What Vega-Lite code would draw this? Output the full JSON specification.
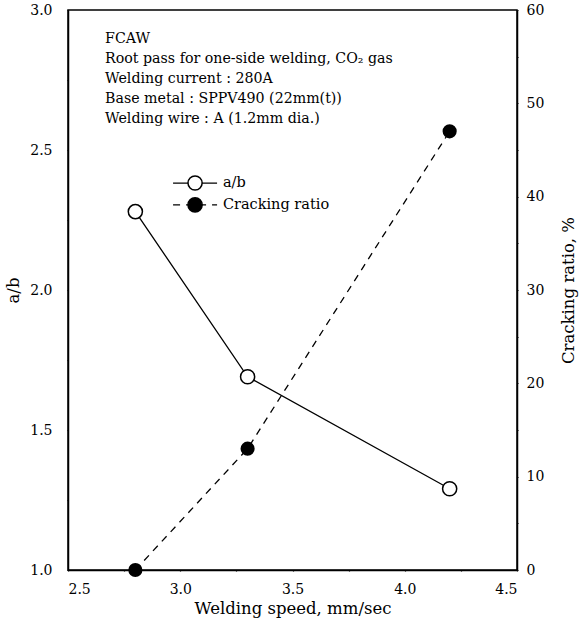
{
  "$schema": "https://vega.github.io/schema/vega-lite/v6.json",
  "width": 449,
  "height": 560,
  "autosize": "none",
  "padding": {"left": 68, "top": 10, "right": 65, "bottom": 53},
  "background": "white",
  "config": {
    "font": "DejaVu Serif",
    "view": {"stroke": "black", "strokeWidth": 1.5},
    "axis": {
      "grid": false,
      "domainColor": "black",
      "domainWidth": 1.5,
      "ticks": true,
      "tickColor": "black",
      "tickWidth": 1.2,
      "tickSize": 1,
      "labelColor": "black",
      "titleColor": "black",
      "labelFont": "DejaVu Serif",
      "titleFont": "DejaVu Serif",
      "labelFontSize": 14,
      "titleFontSize": 16.5,
      "titleFontWeight": "normal"
    }
  },
  "datasets": {
    "ab": [
      {"speed": 2.8, "ab": 2.28},
      {"speed": 3.3, "ab": 1.69},
      {"speed": 4.2, "ab": 1.29}
    ],
    "crack": [
      {"speed": 2.8, "crack": 0},
      {"speed": 3.3, "crack": 13},
      {"speed": 4.2, "crack": 47}
    ],
    "notes": [
      {"x": 2.665, "y": 2.896, "text": "FCAW"},
      {"x": 2.665, "y": 2.825, "text": "Root pass for one-side welding, CO₂ gas"},
      {"x": 2.665, "y": 2.754, "text": "Welding current : 280A"},
      {"x": 2.665, "y": 2.682, "text": "Base metal : SPPV490 (22mm(t))"},
      {"x": 2.665, "y": 2.611, "text": "Welding wire : A (1.2mm dia.)"}
    ],
    "legend": [
      {"label": "a/b", "x1": 2.968, "x2": 3.164, "xc": 3.066, "xt": 3.19, "y": 2.382},
      {"label": "Cracking ratio", "x1": 2.968, "x2": 3.164, "xc": 3.066, "xt": 3.19, "y": 2.304}
    ]
  },
  "layer": [
    {
      "encoding": {
        "y": {
          "type": "quantitative",
          "scale": {"domain": [1.0, 3.0], "nice": false, "zero": false},
          "axis": {
            "orient": "left",
            "title": "a/b",
            "values": [1.0, 1.25, 1.5, 1.75, 2.0, 2.25, 2.5, 2.75, 3.0],
            "labelExpr": "datum.value*2 == round(datum.value*2) ? format(datum.value, '.1f') : ''",
            "labelPadding": 15,
            "titlePadding": 8,
            "encode": {"ticks": {"update": {"x2": {"signal": "datum.value*2 == round(datum.value*2) ? 8 : 5"}}}}
          }
        },
        "x": {
          "type": "quantitative",
          "scale": {"domain": [2.5, 4.5], "nice": false, "zero": false},
          "axis": {
            "title": "Welding speed, mm/sec",
            "values": [2.5, 2.75, 3.0, 3.25, 3.5, 3.75, 4.0, 4.25, 4.5],
            "labelExpr": "datum.value*2 == round(datum.value*2) ? format(datum.value, '.1f') : ''",
            "labelPadding": 11,
            "titlePadding": 4,
            "encode": {"ticks": {"update": {"y2": {"signal": "datum.value*2 == round(datum.value*2) ? -8 : -5"}}}}
          }
        }
      },
      "layer": [
        {
          "data": {"name": "ab"},
          "mark": {"type": "line", "color": "black", "strokeWidth": 1.3},
          "encoding": {"x": {"field": "speed"}, "y": {"field": "ab"}}
        },
        {
          "data": {"name": "ab"},
          "mark": {"type": "point", "shape": "circle", "filled": false, "fill": "white", "fillOpacity": 1, "stroke": "black", "strokeWidth": 1.5, "size": 200, "opacity": 1},
          "encoding": {"x": {"field": "speed"}, "y": {"field": "ab"}}
        },
        {
          "data": {"name": "notes"},
          "mark": {"type": "text", "align": "left", "baseline": "middle", "fontSize": 14.2, "font": "DejaVu Serif", "color": "black"},
          "encoding": {"x": {"field": "x"}, "y": {"field": "y"}, "text": {"field": "text"}}
        },
        {
          "data": {"name": "legend"},
          "mark": {"type": "rule", "color": "black", "strokeWidth": 1.3},
          "encoding": {
            "x": {"field": "x1"}, "x2": {"field": "x2"}, "y": {"field": "y"},
            "strokeDash": {"field": "label", "type": "nominal", "scale": {"domain": ["a/b", "Cracking ratio"], "range": [[1, 0], [7, 6]]}, "legend": null}
          }
        },
        {
          "data": {"name": "legend"},
          "mark": {"type": "point", "shape": "circle", "filled": true, "stroke": "black", "strokeWidth": 1.5, "size": 200, "opacity": 1},
          "encoding": {
            "x": {"field": "xc"}, "y": {"field": "y"},
            "fill": {"field": "label", "type": "nominal", "scale": {"domain": ["a/b", "Cracking ratio"], "range": ["white", "black"]}, "legend": null}
          }
        },
        {
          "data": {"name": "legend"},
          "mark": {"type": "text", "align": "left", "baseline": "middle", "fontSize": 14.5, "font": "DejaVu Serif", "color": "black"},
          "encoding": {"x": {"field": "xt"}, "y": {"field": "y"}, "text": {"field": "label"}}
        }
      ]
    },
    {
      "data": {"name": "crack"},
      "encoding": {
        "x": {"field": "speed", "type": "quantitative"},
        "y": {
          "field": "crack",
          "type": "quantitative",
          "scale": {"domain": [0, 60], "nice": false},
          "axis": {
            "orient": "right",
            "title": "Cracking ratio, %",
            "titleAngle": 270,
            "values": [0, 5, 10, 15, 20, 25, 30, 35, 40, 45, 50, 55, 60],
            "labelExpr": "datum.value % 10 == 0 ? format(datum.value, 'd') : ''",
            "labelPadding": 8,
            "titlePadding": 33,
            "encode": {"ticks": {"update": {"x2": {"signal": "datum.value % 10 == 0 ? -8 : -5"}}}}
          }
        }
      },
      "layer": [
        {"mark": {"type": "line", "color": "black", "strokeWidth": 1.3, "strokeDash": [7, 6]}},
        {"mark": {"type": "point", "shape": "circle", "filled": true, "color": "black", "size": 200, "opacity": 1}}
      ]
    }
  ],
  "resolve": {"scale": {"y": "independent"}}
}
